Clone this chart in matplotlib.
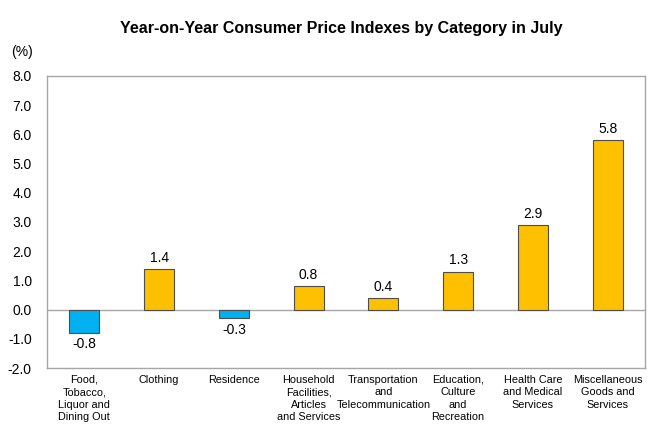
import matplotlib
matplotlib.use("Agg")
import matplotlib.pyplot as plt

categories = ["Food,\nTobacco,\nLiquor and\nDining Out", "Clothing", "Residence",
              "Household\nFacilities,\nArticles\nand Services",
              "Transportation\nand\nTelecommunication",
              "Education,\nCulture\nand\nRecreation",
              "Health Care\nand Medical\nServices",
              "Miscellaneous\nGoods and\nServices"]
values = [-0.8, 1.4, -0.3, 0.8, 0.4, 1.3, 2.9, 5.8]
yticks = [-2.0, -1.0, 0.0, 1.0, 2.0, 3.0, 4.0, 5.0, 6.0, 7.0, 8.0]

plt.rcParams['font.family'] = ['Liberation Sans', 'DejaVu Sans']

fig = plt.figure(figsize=(6.6, 4.4), dpi=100)
ax = fig.add_axes([47/660, 1 - 368/440, (645-47)/660, (368-76)/440])

x = list(range(len(values)))
colors = ['#00B0F0' if v < 0 else '#FFC000' for v in values]
ax.bar(x, values, width=0.4, color=colors, edgecolor='#4D4D4D', linewidth=0.8, zorder=3)
ax.axhline(0, color='#A6A6A6', linewidth=1.0, zorder=2)

for xi, v in zip(x, values):
    if v >= 0:
        ax.annotate(f"{v:.1f}", (xi, v), xytext=(0, 3), textcoords='offset points',
                    ha='center', va='bottom', fontsize=10)
    else:
        ax.annotate(f"{v:.1f}", (xi, v), xytext=(0, -3), textcoords='offset points',
                    ha='center', va='top', fontsize=10)

ax.set_xlim(-0.5, len(values) - 0.5)
ax.set_ylim(-2.0, 8.0)
ax.set_yticks(yticks)
ax.set_yticklabels([f"{t:.1f}" for t in yticks], fontsize=10)
ax.tick_params(axis='y', length=0, pad=11)
ax.set_xticks(x)
ax.set_xticklabels(categories, fontsize=7.8, linespacing=1.3)
ax.tick_params(axis='x', length=0, pad=5)
for s in ax.spines.values():
    s.set_color('#A6A6A6')
    s.set_linewidth(1.0)

fig.text(22/660, 1 - 52/440, "(%)", ha='center', va='center', fontsize=10)
fig.text(341/660, 1 - 28/440, "Year-on-Year Consumer Price Indexes by Category in July",
         ha='center', va='center', fontsize=11.5, fontweight='bold')

fig.savefig("out.png", dpi=100)
